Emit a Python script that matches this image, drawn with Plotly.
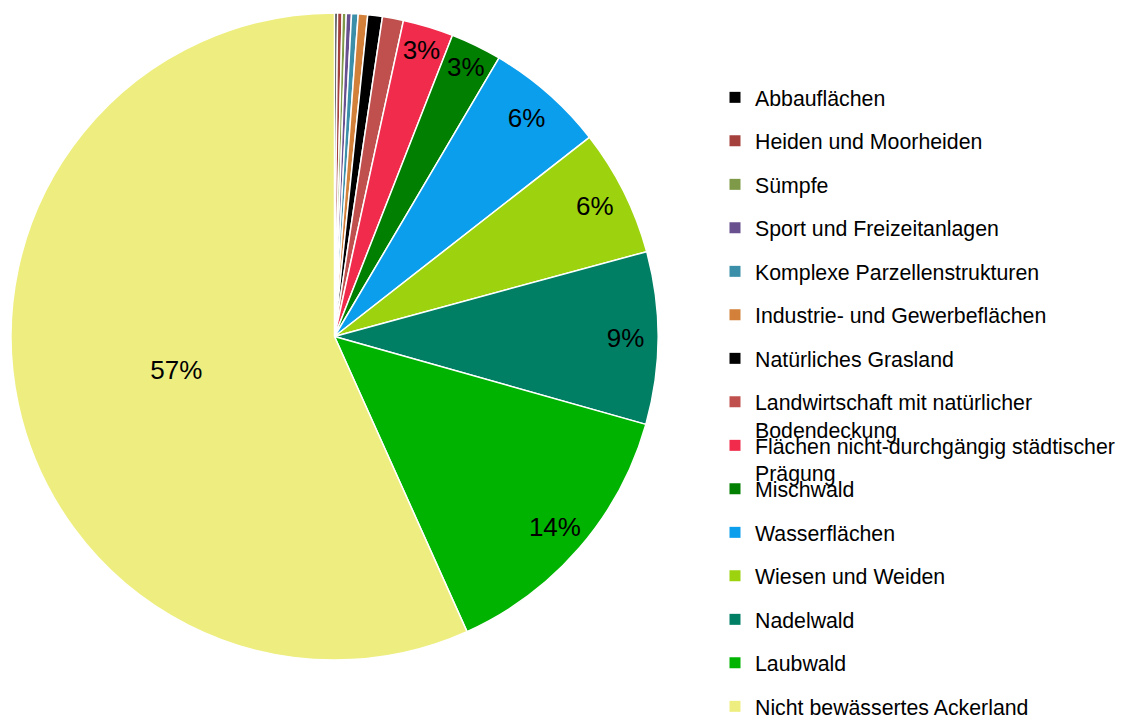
import plotly.graph_objects as go

# land cover classes, in pie order (clockwise from 12 o'clock) and legend order
labels = [
    'Abbauflächen',
    'Heiden und Moorheiden',
    'Sümpfe',
    'Sport und Freizeitanlagen',
    'Komplexe Parzellenstrukturen',
    'Industrie- und Gewerbeflächen',
    'Natürliches Grasland',
    'Landwirtschaft mit natürlicher<br>Bodendeckung',
    'Flächen nicht-durchgängig städtischer<br>Prägung',
    'Mischwald',
    'Wasserflächen',
    'Wiesen und Weiden',
    'Nadelwald',
    'Laubwald',
    'Nicht bewässertes Ackerland',
]
shares = [0.15, 0.23, 0.20, 0.26, 0.33, 0.47, 0.73, 1.05,
          2.52, 2.55, 5.95, 6.33, 8.60, 13.90, 56.70]
colors = ['#000000', '#A5413D', '#7E9A48', '#69508E', '#3C8FA9', '#D3813A',
          '#000000', '#C0504D', '#F02B4B', '#007F00', '#0A9EEC', '#9CD30E',
          '#007F64', '#00B300', '#EEEE80']
# which slices carry a percentage label: near the rim, or in the middle (big slice)
rim_label = [False] * 8 + [True] * 6 + [False]
mid_label = [False] * 14 + [True]

FONT = 'Liberation Sans, Arial, sans-serif'
W, H = 1125, 718
# the page body adds an 8px margin, so positions below are shifted by that much
pie_domain = dict(x=[3 / W, 650 / W], y=[66 / H, 713 / H])
pct_font = dict(size=26, color='black', family=FONT)

fig = go.Figure()
fig.add_trace(go.Pie(
    labels=labels, values=shares, sort=False, direction='clockwise', rotation=0,
    marker=dict(colors=colors, line=dict(color='white', width=1.5)),
    texttemplate=['%{percent:.0%}' if s else '' for s in mid_label],
    textposition='inside', insidetextorientation='horizontal',
    textfont=pct_font, showlegend=False, domain=pie_domain,
))
# transparent ring on top, only to put the smaller labels close to the rim
fig.add_trace(go.Pie(
    labels=labels, values=shares, sort=False, direction='clockwise', rotation=0,
    hole=0.8, marker=dict(colors=['rgba(0,0,0,0)'] * len(labels), line=dict(width=0)),
    texttemplate=['%{percent:.0%}' if s else '' for s in rim_label],
    textposition='inside', insidetextorientation='horizontal',
    textfont=pct_font, showlegend=False, hoverinfo='skip', domain=pie_domain,
))

# legend: one entry per class, evenly spaced like the original
layout_legends = {}
for i, (lab, col) in enumerate(zip(labels, colors)):
    lname = 'legend' if i == 0 else f'legend{i + 1}'
    fig.add_trace(go.Scatter(x=[None], y=[None], mode='markers', name=lab,
                             marker=dict(symbol='square', size=11, color=col),
                             legend=lname, showlegend=True))
    layout_legends[lname] = dict(
        x=707 / W, xanchor='left', y=1 - (69 + 43.5 * i) / H, yanchor='top',
        font=dict(family=FONT, size=21.3, color='black'),
        valign='top', bgcolor='rgba(0,0,0,0)', borderwidth=0)

fig.update_layout(
    width=W, height=H,
    margin=dict(l=0, r=0, t=0, b=0, autoexpand=False),
    paper_bgcolor='white', plot_bgcolor='white',
    xaxis=dict(visible=False), yaxis=dict(visible=False),
    uniformtext=dict(minsize=26, mode='show'),
    **layout_legends,
)

fig.write_html('out.html')
